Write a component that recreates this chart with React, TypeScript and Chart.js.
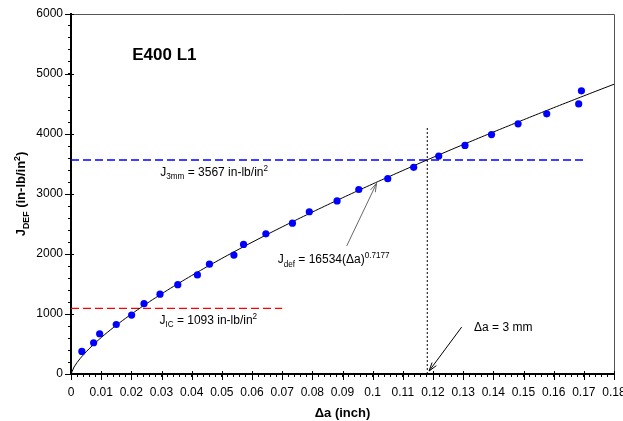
import React, { useEffect, useRef } from "react";
import { Chart, registerables } from "chart.js";

Chart.register(...registerables);

// ---- Data ----
const crackExtension = [
  0.0036, 0.0075, 0.0095, 0.015, 0.0201, 0.0242, 0.0295, 0.0354, 0.0419, 0.0459,
  0.054, 0.0572, 0.0646, 0.0734, 0.079, 0.0882, 0.0954, 0.105, 0.1136, 0.1219,
  0.1306, 0.1394, 0.1482, 0.1577, 0.1683, 0.1692,
];
const jDef = [
  376, 521, 671, 825, 982, 1172, 1331, 1489, 1652, 1830,
  1982, 2160, 2336, 2514, 2704, 2884, 3075, 3255, 3444, 3632,
  3810, 3990, 4170, 4336, 4502, 4719,
];

// Power-law fit stated on the chart: Jdef = 16534 (Δa)^0.7177
const FIT_COEF = 16534;
const FIT_EXP = 0.7177;
const FIT_X_MAX = 0.18;
const FIT_X_STEP = 0.001;

const J_3MM = 3567;
const J_3MM_END = 0.17;
const J_IC = 1093;
const J_IC_END = 0.07;
const DA_3MM = 0.1181;
const DA_3MM_TOP = 4130;

const X_MAX = 0.18;
const Y_MAX = 6000;
const X_MINOR = 0.002;
const X_MAJOR = 0.01;
const Y_MINOR = 200;
const Y_MAJOR = 1000;

const FONT = 'Arial, "Liberation Sans", Helvetica, sans-serif';

type Seg = { t: string; s?: "sub" | "sup" };

function drawRich(
  ctx: CanvasRenderingContext2D,
  segs: Seg[],
  x: number,
  y: number,
  size: number,
  bold: boolean,
  align: "left" | "center"
) {
  const f = (sz: number) => `${bold ? "bold " : ""}${sz}px ${FONT}`;
  let w = 0;
  for (const s of segs) {
    ctx.font = f(s.s ? size * 0.68 : size);
    w += ctx.measureText(s.t).width;
  }
  let cx = align === "center" ? x - w / 2 : x;
  ctx.textAlign = "left";
  ctx.textBaseline = "alphabetic";
  for (const s of segs) {
    ctx.font = f(s.s ? size * 0.68 : size);
    const dy = s.s === "sub" ? size * 0.28 : s.s === "sup" ? -size * 0.42 : 0;
    ctx.fillText(s.t, cx, y + dy);
    cx += ctx.measureText(s.t).width;
  }
}

function arrow(
  ctx: CanvasRenderingContext2D,
  x1: number,
  y1: number,
  x2: number,
  y2: number,
  color: string
) {
  ctx.strokeStyle = color;
  ctx.lineWidth = 1;
  ctx.setLineDash([]);
  ctx.beginPath();
  ctx.moveTo(x1, y1);
  ctx.lineTo(x2, y2);
  const a = Math.atan2(y2 - y1, x2 - x1);
  const L = 9;
  const sp = 0.3;
  ctx.moveTo(x2, y2);
  ctx.lineTo(x2 - L * Math.cos(a - sp), y2 - L * Math.sin(a - sp));
  ctx.moveTo(x2, y2);
  ctx.lineTo(x2 - L * Math.cos(a + sp), y2 - L * Math.sin(a + sp));
  ctx.stroke();
}

const overlayPlugin = {
  id: "overlay",
  afterDraw(chart: any) {
    const { ctx, chartArea: ca, scales } = chart;
    const x = scales.x;
    const y = scales.y;
    const px = (v: number) => x.getPixelForValue(v);
    const py = (v: number) => y.getPixelForValue(v);
    ctx.save();

    // top and right frame
    ctx.strokeStyle = "#555";
    ctx.lineWidth = 1;
    ctx.beginPath();
    ctx.moveTo(ca.left, Math.round(ca.top) + 0.5);
    ctx.lineTo(Math.round(ca.right) + 0.5, Math.round(ca.top) + 0.5);
    ctx.lineTo(Math.round(ca.right) + 0.5, ca.bottom);
    ctx.stroke();

    // major ticks (longer, crossing the axis)
    ctx.strokeStyle = "#000";
    ctx.beginPath();
    for (const t of y.ticks) {
      if (Math.abs(t.value / Y_MAJOR - Math.round(t.value / Y_MAJOR)) < 1e-6) {
        const yy = Math.round(py(t.value)) + 0.5;
        ctx.moveTo(ca.left - 6, yy);
        ctx.lineTo(ca.left + 3, yy);
      }
    }
    for (const t of x.ticks) {
      if (Math.abs(t.value / X_MAJOR - Math.round(t.value / X_MAJOR)) < 1e-6) {
        const xx = Math.round(px(t.value)) + 0.5;
        ctx.moveTo(xx, ca.bottom - 3);
        ctx.lineTo(xx, ca.bottom + 6);
      }
    }
    ctx.stroke();

    ctx.fillStyle = "#000";
    // title
    ctx.font = `bold 17px ${FONT}`;
    ctx.textAlign = "left";
    ctx.textBaseline = "alphabetic";
    ctx.fillText("E400 L1", px(0.0203), py(5240));

    // annotations
    drawRich(ctx, [{ t: "J" }, { t: "3mm", s: "sub" }, { t: " = 3567 in-lb/in" }, { t: "2", s: "sup" }], px(0.0296), py(3300), 12, false, "left");
    drawRich(ctx, [{ t: "J" }, { t: "IC", s: "sub" }, { t: " = 1093 in-lb/in" }, { t: "2", s: "sup" }], px(0.0293), py(832), 12, false, "left");
    drawRich(ctx, [{ t: "J" }, { t: "def", s: "sub" }, { t: " = 16534(\u0394a)" }, { t: "0.7177", s: "sup" }], px(0.0685), py(1847), 12, false, "left");
    drawRich(ctx, [{ t: "\u0394a = 3 mm" }], px(0.1336), py(709), 12, false, "left");

    arrow(ctx, px(0.0914), py(2135), px(0.1013), py(3178), "#666");
    arrow(ctx, px(0.1295), py(782), px(0.1187), py(50), "#000");

    // axis titles
    drawRich(ctx, [{ t: "\u0394a (inch)" }], (ca.left + ca.right) / 2, 417, 13, true, "center");
    ctx.translate(25, (ca.top + ca.bottom) / 2);
    ctx.rotate(-Math.PI / 2);
    drawRich(ctx, [{ t: "J" }, { t: "DEF", s: "sub" }, { t: " (in-lb/in" }, { t: "2", s: "sup" }, { t: ")" }], 0, 0, 13, true, "center");
    ctx.restore();
  },
};

export default function App() {
  const ref = useRef<HTMLCanvasElement | null>(null);

  useEffect(() => {
    if (!ref.current) return;
    const fitPts: { x: number; y: number }[] = [];
    for (let i = 0; i * FIT_X_STEP <= FIT_X_MAX + 1e-9; i++) {
      const xv = i * FIT_X_STEP;
      fitPts.push({ x: xv, y: FIT_COEF * Math.pow(xv, FIT_EXP) });
    }
    const pts = crackExtension.map((v, i) => ({ x: v, y: jDef[i] }));

    const chart = new Chart(ref.current, {
      type: "scatter",
      data: {
        datasets: [
          {
            data: pts,
            pointRadius: 3.6,
            pointBackgroundColor: "#0000FF",
            pointBorderWidth: 0,
            showLine: false,
          },
          {
            data: fitPts,
            showLine: true,
            borderColor: "#000",
            borderWidth: 1,
            pointRadius: 0,
          },
          {
            data: [{ x: 0, y: J_3MM }, { x: J_3MM_END, y: J_3MM }],
            showLine: true,
            borderColor: "#0000FF",
            borderWidth: 1.3,
            borderDash: [8, 4],
            pointRadius: 0,
          },
          {
            data: [{ x: 0, y: J_IC }, { x: J_IC_END, y: J_IC }],
            showLine: true,
            borderColor: "#FF0000",
            borderWidth: 1.3,
            borderDash: [8, 4],
            pointRadius: 0,
          },
          {
            data: [{ x: DA_3MM, y: 0 }, { x: DA_3MM, y: DA_3MM_TOP }],
            showLine: true,
            borderColor: "#000",
            borderWidth: 1,
            borderDash: [2, 2],
            pointRadius: 0,
          },
        ],
      },
      options: {
        responsive: false,
        animation: false,
        devicePixelRatio: 1,
        layout: { padding: { top: 14, right: 9, left: 0, bottom: 0 } },
        plugins: { legend: { display: false }, tooltip: { enabled: false } },
        scales: {
          x: {
            type: "linear",
            min: 0,
            max: X_MAX,
            afterFit: (s: any) => {
              s.height = 47;
              s.paddingLeft = 0;
              s.paddingRight = 0;
            },
            border: { display: true, color: "#000", width: 2 },
            grid: { display: true, drawOnChartArea: false, drawTicks: true, tickLength: 3, color: "#000", tickColor: "#000" },
            ticks: {
              stepSize: X_MINOR,
              autoSkip: false,
              maxRotation: 0,
              minRotation: 0,
              padding: 8,
              color: "#000",
              font: { family: FONT, size: 12 },
              callback: (v: any) => {
                const n = Number(v);
                if (Math.abs(n / X_MAJOR - Math.round(n / X_MAJOR)) < 1e-6) {
                  return String(Math.round(n / X_MAJOR) / 100);
                }
                return "";
              },
            },
          },
          y: {
            type: "linear",
            min: 0,
            max: Y_MAX,
            afterFit: (s: any) => {
              s.width = 71;
              s.paddingTop = 0;
              s.paddingBottom = 0;
            },
            border: { display: true, color: "#000", width: 2 },
            grid: { display: true, drawOnChartArea: false, drawTicks: true, tickLength: 3, color: "#000", tickColor: "#000" },
            ticks: {
              stepSize: Y_MINOR,
              autoSkip: false,
              padding: 5,
              color: "#000",
              font: { family: FONT, size: 12 },
              callback: (v: any) => {
                const n = Number(v);
                return n % Y_MAJOR === 0 ? String(n) : "";
              },
            },
          },
        },
      },
      plugins: [overlayPlugin],
    } as any);
    return () => chart.destroy();
  }, []);

  return (
    <div style={{ position: "absolute", left: 0, top: 0, width: 623, height: 421 }}>
      <canvas ref={ref} width={623} height={421} />
    </div>
  );
}
